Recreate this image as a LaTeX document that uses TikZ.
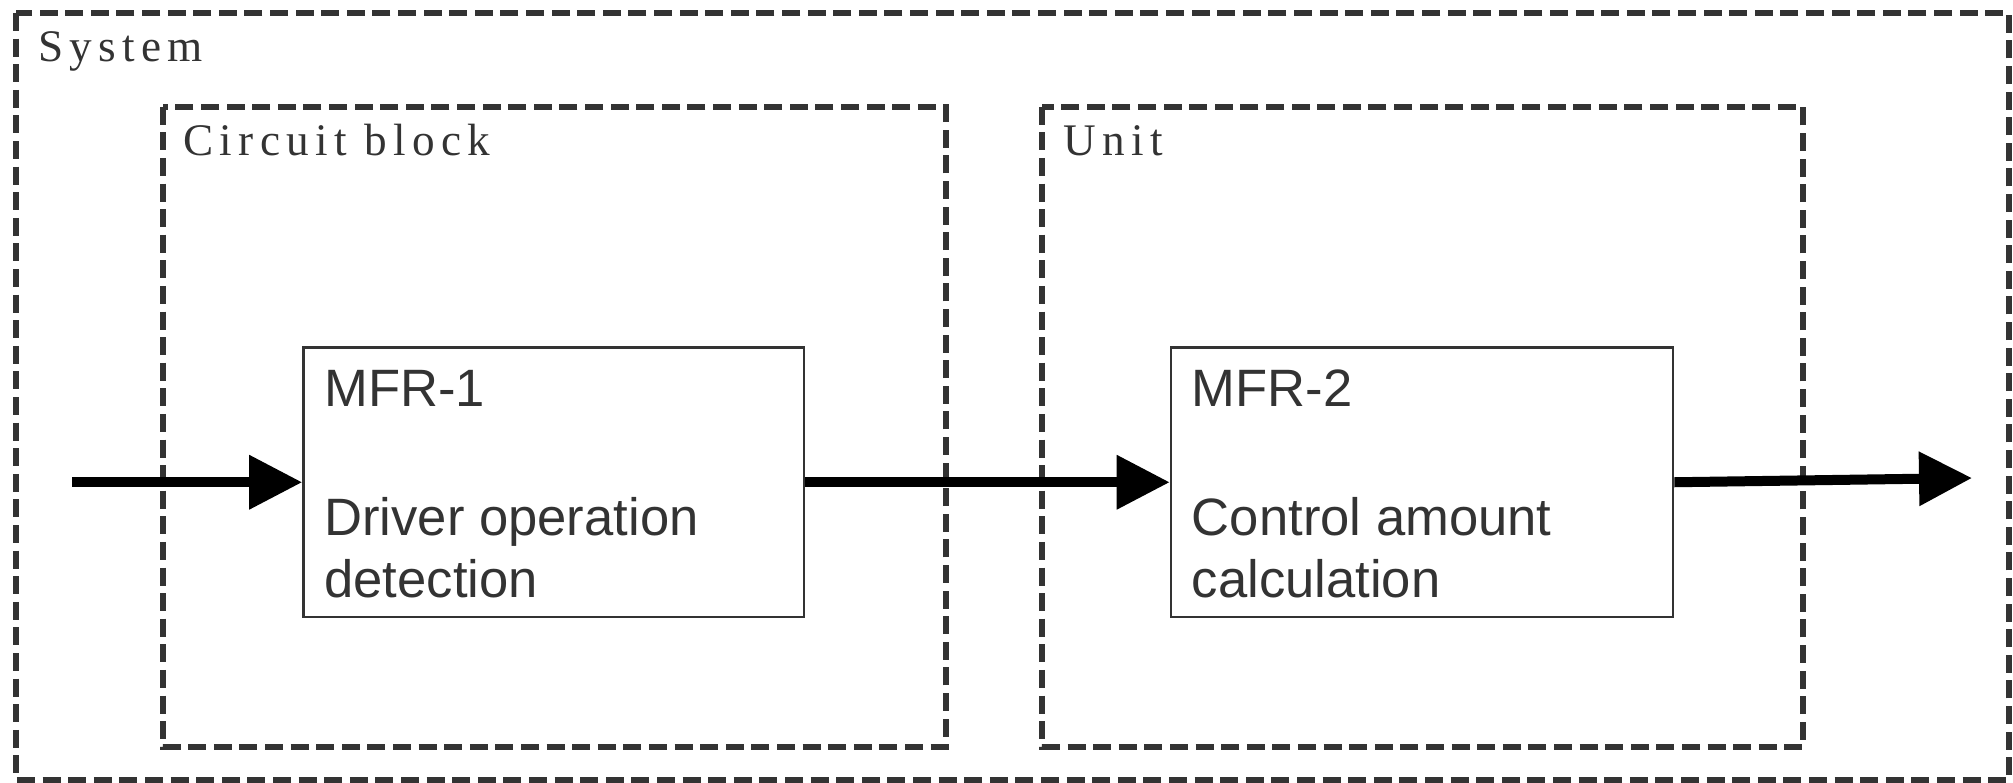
\documentclass[tikz,border=0pt]{standalone}
\usepackage{fontspec}
\setmainfont{Liberation Serif}
\newfontfamily\boxfont{Liberation Sans}
\newfontfamily\lblfont[LetterSpace=14]{Liberation Serif}
\usetikzlibrary{arrows.meta}
\definecolor{ink}{HTML}{333333}
\begin{document}
\begin{tikzpicture}[x=0.5pt,y=-0.5pt,
  region/.style={draw=ink, line width=2.9pt, dash pattern=on 9pt off 3.8pt},
  func/.style={draw=ink, line width=1.3pt, rectangle, inner sep=0pt},
  lbl/.style={anchor=base west, inner sep=0pt, text=ink, font=\lblfont\fontsize{22.6pt}{26pt}\selectfont},
  txt/.style={anchor=base west, inner sep=0pt, text=ink, font=\boxfont\fontsize{26.3pt}{31pt}\selectfont},
  flow/.style={line width=5pt, -{Triangle[length=26.5pt,width=26pt]}}]
\useasboundingbox (0,0) rectangle (2013,782);
% containers
\draw[region] (16,13) rectangle (2009,780);
\draw[region] (162.6,106.7) rectangle (946,746.7);
\draw[region] (1042,106.7) rectangle (1803,746.7);
\node[lbl] (lsys) at (38,61.7) {System};
\node[lbl] (lcb) at (183,155) {Circuit block};
\node[lbl] (lunit) at (1063,155) {Unit};
% function boxes
\node[func, minimum width=250.25pt, minimum height=134.75pt] (m1) at (553.75,482.25) {};
\node[func, minimum width=251pt, minimum height=134.75pt] (m2) at (1422,482.25) {};
\node[txt] (t1a) at (324,406) {MFR-1};
\node[txt] (t1b) at (324,535) {Driver operation};
\node[txt] (t1c) at (324,597) {detection};
\node[txt] (t2a) at (1191.5,406) {MFR-2};
\node[txt] (t2b) at (1191.5,535) {Control amount};
\node[txt] (t2c) at (1191.5,597) {calculation};
% flows
\coordinate (in) at (72,482.25);
\coordinate (out) at (1972,478);
\draw[flow] (in) -- (m1.west);
\draw[flow] (m1.east) -- (m2.west);
\draw[flow] (m2.east) -- (out);
\end{tikzpicture}
\end{document}
